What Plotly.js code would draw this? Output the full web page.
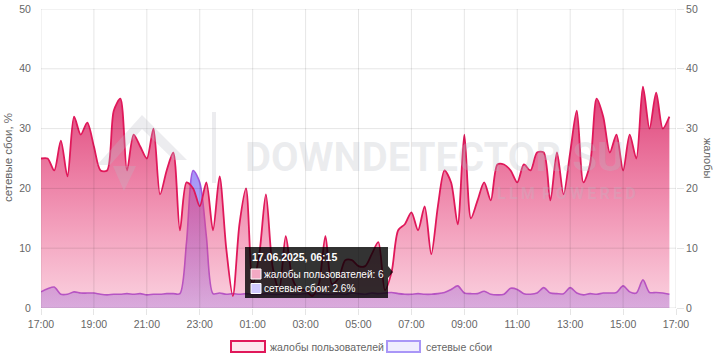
<!DOCTYPE html>
<html><head><meta charset="utf-8">
<script src="https://cdn.plot.ly/plotly-3.0.1.min.js"></script>
<style>html,body{margin:0;padding:0;background:#fff;}#chart{width:720px;height:360px;}</style>
</head><body><div id="chart"></div>
<script>
// ---- data ----
const seriesNames = ['жалобы пользователей', 'сетевые сбои'];
const leftAxisTitle = 'сетевые сбои, %';
const rightAxisTitle = 'жалобы';
const startUTC = Date.UTC(2025, 5, 16, 17, 0); // 16.06.2025 17:00
const stepMinutes = 15;
// complaints, one row per hour (17:00 ... 16:45)
const complaints = [
  25, 25, 23, 28,   // 17
  22, 32, 29, 31,   // 18
  27, 23, 23, 33,   // 19
  35, 23, 29, 27,   // 20
  25, 30, 19, 23,   // 21
  26, 13, 21, 20,   // 22
  17, 21, 13, 22,   // 23
  10, 2, 14, 20,    // 00
  4, 9, 19, 7,      // 01
  3, 12, 5, 3,      // 02
  3, 2, 4, 12,      // 03
  4, 5, 8, 8,       // 04
  7, 7, 9, 11,      // 05
  3, 6, 13, 14,     // 06
  16, 13, 17, 9,    // 07
  17, 23, 21, 14,   // 08
  29, 15, 18, 21,   // 09
  18, 24, 24, 23,   // 10
  21, 24, 23, 26,   // 11
  26, 18, 26, 19,   // 12
  26, 33, 21, 24,   // 13
  35, 32, 26, 29,   // 14
  23, 29, 25, 37,   // 15
  30, 36, 30, 32    // 16
];
const outages = [
  2.7, 3.2, 3.5, 2.3,
  2.3, 2.7, 2.5, 2.5,
  2.5, 2.3, 2.2, 2.3,
  2.3, 2.4, 2.3, 2.4,
  2.2, 2.3, 2.3, 2.4,
  2.4, 2.4, 11, 23,
  21, 12, 2.4, 2.5,
  2.3, 2.4, 2.3, 2.4,
  2.3, 2.3, 2.4, 2.3,
  2.3, 2.4, 2.3, 2.3,
  2.4, 2.3, 2.4, 2.3,
  2.3, 2.4, 2.3, 2.5,
  2.4, 2.3, 2.5, 2.4,
  2.5, 2.6, 2.4, 2.3,
  2.3, 2.4, 2.3, 2.3,
  2.4, 2.6, 3.1, 3.7,
  2.5, 2.4, 2.4, 2.8,
  2.3, 2.2, 2.3, 3.3,
  3.1, 2.4, 2.3, 2.5,
  3.4, 2.5, 2.4, 2.4,
  3.4, 2.5, 2.2, 2.4,
  2.3, 2.5, 2.5, 2.6,
  3.7, 2.7, 2.5, 4.7,
  2.6, 2.6, 2.5, 2.3
];
const yTicks = [0, 10, 20, 30, 40, 50];
const tooltipIndex = 53; // 17.06.2025 06:15

// ---- helpers ----
function iso(ms){ return new Date(ms).toISOString().slice(0,16).replace('T',' '); }
const times = complaints.map((_, i) => iso(startUTC + i*stepMinutes*60000));
const xEnd = iso(startUTC + 24*3600000);
const xGrid = [];
for (let h = 0; h <= 24; h += 2) xGrid.push(iso(startUTC + h*3600000));
const PX = p => (p - 41) / 635;
const PY = p => (308 - p) / 299;
const FS = 10.5;
const TS = 10;

const gridColor = 'rgba(0,0,0,0.1)';
const shapes = [];
yTicks.forEach(v => shapes.push({type:'line', xref:'paper', yref:'y', x0:0, x1:1, y0:v, y1:v,
  line:{color:gridColor, width:1}, layer:'above'}));
xGrid.forEach(t => shapes.push({type:'line', xref:'x', yref:'paper', x0:t, x1:t, y0:0, y1:1,
  line:{color:gridColor, width:1}, layer:'above'}));

// watermark logo
const wm = 'rgba(185,188,198,0.28)';
shapes.push({type:'path', xref:'paper', yref:'paper', layer:'above', line:{width:0}, fillcolor:wm,
  path:`M${PX(97)},${PY(165)} L${PX(142)},${PY(115)} L${PX(187)},${PY(160)} L${PX(174)},${PY(160)} L${PX(142)},${PY(129)} L${PX(110)},${PY(165)} Z`});
shapes.push({type:'path', xref:'paper', yref:'paper', layer:'above', line:{width:0}, fillcolor:wm,
  path:`M${PX(113)},${PY(166)} L${PX(136)},${PY(166)} L${PX(124)},${PY(191)} Z`});
shapes.push({type:'rect', xref:'paper', yref:'paper', layer:'above', line:{width:0}, fillcolor:wm,
  x0:PX(212), x1:PX(216), y0:PY(183), y1:PY(112)});

// tooltip
shapes.push({type:'rect', xref:'paper', yref:'paper', layer:'above', line:{width:0}, fillcolor:'rgba(0,0,0,0.8)',
  x0:PX(245), x1:PX(388), y0:PY(298), y1:PY(247)});
shapes.push({type:'path', xref:'paper', yref:'paper', layer:'above', line:{width:0}, fillcolor:'rgba(0,0,0,0.8)',
  path:`M${PX(388)},${PY(266)} L${PX(393)},${PY(272)} L${PX(388)},${PY(278)} Z`});
shapes.push({type:'rect', xref:'paper', yref:'paper', layer:'above', line:{width:1, color:'#fff'}, fillcolor:'#f2a9c3',
  x0:PX(251), x1:PX(261), y0:PY(279), y1:PY(269)});
shapes.push({type:'rect', xref:'paper', yref:'paper', layer:'above', line:{width:1, color:'#fff'}, fillcolor:'#d2cbff',
  x0:PX(251), x1:PX(261), y0:PY(293.5), y1:PY(283.5)});

// legend boxes
shapes.push({type:'rect', xref:'paper', yref:'paper', line:{width:2, color:'#e0185a'}, fillcolor:'#fde6ee',
  x0:PX(231), x1:PX(265), y0:PY(352), y1:PY(341)});
shapes.push({type:'rect', xref:'paper', yref:'paper', line:{width:2, color:'#a996f7'}, fillcolor:'#f0edfe',
  x0:PX(387), x1:PX(420), y0:PY(352), y1:PY(341)});

const d = new Date(startUTC + tooltipIndex*stepMinutes*60000);
const pad = n => String(n).padStart(2,'0');
const tipTitle = `${pad(d.getUTCDate())}.${pad(d.getUTCMonth()+1)}.${d.getUTCFullYear()}, ${pad(d.getUTCHours())}:${pad(d.getUTCMinutes())}`;

const white = {color:'#fff', size:TS, family:'Liberation Sans, Arial, sans-serif'};
const annotations = [
  {xref:'paper', yref:'paper', x:PX(434), y:PY(157), xanchor:'center', yanchor:'middle', showarrow:false,
   text:'DOWNDETECTOR.SU', font:{family:'Roboto, Arial, sans-serif', size:40, weight:'bold', color:wm}},
  {xref:'paper', yref:'paper', x:PX(638), y:PY(193), xanchor:'right', yanchor:'middle', showarrow:false,
   text:'L\u2009L\u2009M\u2009 P\u2009O\u2009W\u2009E\u2009R\u2009E\u2009D', font:{family:'Roboto, Arial, sans-serif', size:16, weight:'bold', color:wm}},
  {xref:'paper', yref:'paper', x:PX(250), y:PY(257), xanchor:'left', yanchor:'middle', showarrow:false,
   text:'<b>'+tipTitle+'</b>', font:{color:'#fff', size:10.5, family:'Liberation Sans, Arial, sans-serif'}},
  {xref:'paper', yref:'paper', x:PX(262), y:PY(274), xanchor:'left', yanchor:'middle', showarrow:false,
   text:`${seriesNames[0]}: ${complaints[tooltipIndex]}`, font:white},
  {xref:'paper', yref:'paper', x:PX(262), y:PY(288.5), xanchor:'left', yanchor:'middle', showarrow:false,
   text:`${seriesNames[1]}: ${outages[tooltipIndex]}%`, font:white},
  {xref:'paper', yref:'paper', x:PX(268), y:PY(347), xanchor:'left', yanchor:'middle', showarrow:false,
   text:seriesNames[0], font:{size:FS, color:'#666'}},
  {xref:'paper', yref:'paper', x:PX(424), y:PY(347), xanchor:'left', yanchor:'middle', showarrow:false,
   text:seriesNames[1], font:{size:FS, color:'#666'}},
  {xref:'paper', yref:'paper', x:PX(708), y:PY(158), xanchor:'center', yanchor:'middle', showarrow:false,
   textangle:90, text:rightAxisTitle, font:{size:11, color:'#666'}},
  {xref:'paper', yref:'paper', x:PX(8), y:PY(158), xanchor:'center', yanchor:'middle', showarrow:false,
   textangle:-90, text:leftAxisTitle, font:{size:11.5, color:'#666'}}
];

const traces = [
  {name:seriesNames[1], x:times, y:outages, yaxis:'y', type:'scatter', mode:'lines',
   line:{color:'#a05ae0', width:1.6, shape:'spline', smoothing:0.8},
   fill:'tozeroy',
   fillgradient:{type:'vertical', start:0, stop:24,
     colorscale:[[0,'rgba(130,110,245,0.35)'],[1,'rgba(130,110,245,0.75)']]},
   hoverinfo:'skip', showlegend:false},
  {name:seriesNames[0], x:times, y:complaints, yaxis:'y2', type:'scatter', mode:'lines',
   line:{color:'#e0185a', width:1.8, shape:'spline', smoothing:0.8},
   fill:'tozeroy',
   fillgradient:{type:'vertical', start:0, stop:38,
     colorscale:[[0,'rgba(236,72,128,0.25)'],[0.5,'rgba(228,60,118,0.6)'],[1,'rgba(216,38,100,0.9)']]},
   hoverinfo:'skip', showlegend:false}
];

const tf = {size:FS, color:'#666'};
const layout = {
  width:720, height:360,
  margin:{l:41, r:44, t:9, b:52, pad:0},
  paper_bgcolor:'#fff', plot_bgcolor:'rgba(0,0,0,0)',
  font:{family:'Liberation Sans, Arial, sans-serif', size:FS, color:'#666'},
  showlegend:false,
  xaxis:{type:'date', range:[times[0], xEnd], tickmode:'linear', tick0:times[0], dtick:7200000,
    tickformat:'%H:%M', showgrid:false, zeroline:false, showline:false,
    ticks:'outside', ticklen:6, tickcolor:gridColor, tickfont:tf, fixedrange:true},
  yaxis:{range:[0,50], tickmode:'array', tickvals:yTicks, showgrid:false, zeroline:false, showline:false,
    ticks:'outside', ticklen:7, tickcolor:'rgba(0,0,0,0)', tickfont:tf, fixedrange:true},
  yaxis2:{range:[0,50], overlaying:'y', side:'right', tickmode:'array', tickvals:yTicks, showgrid:false,
    zeroline:false, showline:false, ticks:'outside', ticklen:7, tickcolor:gridColor,
    tickfont:tf, fixedrange:true},
  shapes:shapes,
  annotations:annotations
};

Plotly.newPlot('chart', traces, layout, {staticPlot:true, displayModeBar:false});
</script>
</body></html>
